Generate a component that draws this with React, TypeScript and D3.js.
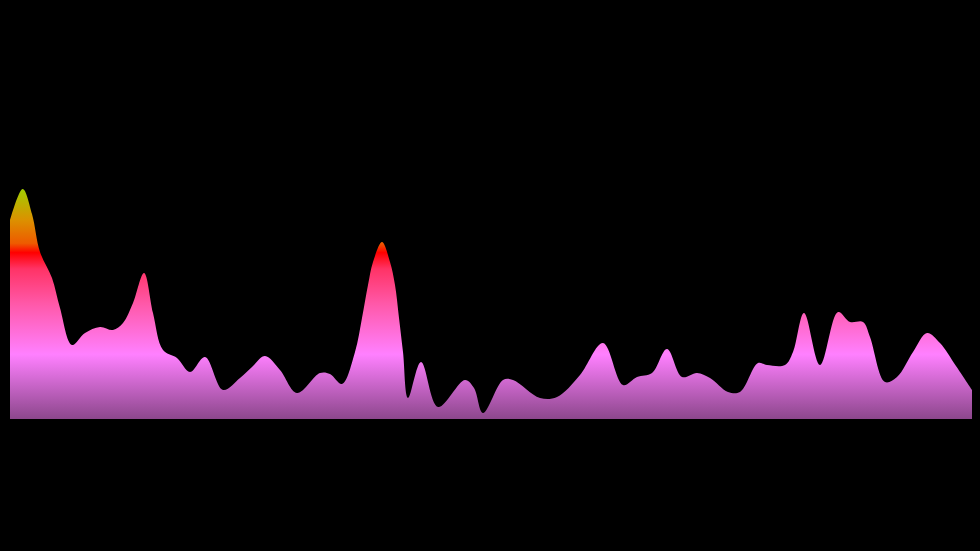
import React from "react";
import * as d3 from "d3";

const WIDTH = 980;
const HEIGHT = 551;

// sample times (irregular) and the series value at each
const times: number[] = [
  0, 12.7, 22, 30, 42, 50, 62, 75, 90, 103,
  113, 123, 134, 143, 153, 167, 180, 195, 213, 230,
  242, 255, 270, 287, 310, 320, 332, 345, 352, 358,
  363, 372, 380, 385, 389, 393, 398, 411, 428, 455,
  464, 473, 493, 503, 530, 547, 570, 593, 613, 627,
  642, 657, 672, 687, 700, 718, 730, 748, 757, 775,
  783, 794, 810, 828, 840, 853, 860, 875, 887, 903,
  917, 930, 946, 962,
];

const values: number[] = [
  199, 230, 205, 167, 141, 111, 74, 86, 92, 89,
  96, 116, 146, 106, 69, 61, 47, 62, 29, 41,
  52, 63, 49, 26, 46, 45, 35, 67, 101, 134,
  157, 177, 157, 134, 101, 67, 21, 57, 12, 39,
  31, 6, 39, 39, 21, 22, 44, 76, 34, 42,
  46, 70, 42, 46, 41, 27, 27, 56, 54, 54,
  67, 106, 54, 107, 97, 97, 82, 37, 42, 67,
  86, 76, 53, 29,
];

const gradientStops: { offset: number; color: string }[] = [
  { offset: 0, color: "#8c478c" },
  { offset: 0.28, color: "#ff80ff" },
  { offset: 0.5, color: "#ff58a8" },
  { offset: 0.65, color: "#ff3366" },
  { offset: 0.72, color: "#ff0000" },
  { offset: 0.76, color: "#ee5a00" },
  { offset: 0.86, color: "#dc9000" },
  { offset: 1, color: "#a0d000" },
];

export default function App() {
  const x = d3.scaleLinear().domain([0, 962]).range([10, 972]);
  const y = d3.scaleLinear().domain([0, 231]).range([419, 188]);
  const data = times.map((t, i) => ({ t, v: values[i] }));

  const area = d3
    .area<{ t: number; v: number }>()
    .x((d) => x(d.t))
    .y0(y(0))
    .y1((d) => y(d.v))
    .curve(d3.curveCatmullRom.alpha(0.5));

  return (
    <div style={{ position: "fixed", left: 0, top: 0, width: WIDTH, height: HEIGHT, background: "#000" }}>
      <svg width={WIDTH} height={HEIGHT} style={{ display: "block" }}>
        <defs>
          <linearGradient id="areaGrad" gradientUnits="userSpaceOnUse" x1={0} x2={0} y1={y(0)} y2={y(231)}>
            {gradientStops.map((s) => (
              <stop key={s.offset} offset={s.offset} stopColor={s.color} />
            ))}
          </linearGradient>
        </defs>
        <rect width={WIDTH} height={HEIGHT} fill="#000" />
        <path d={area(data) || ""} fill="url(#areaGrad)" />
      </svg>
    </div>
  );
}
